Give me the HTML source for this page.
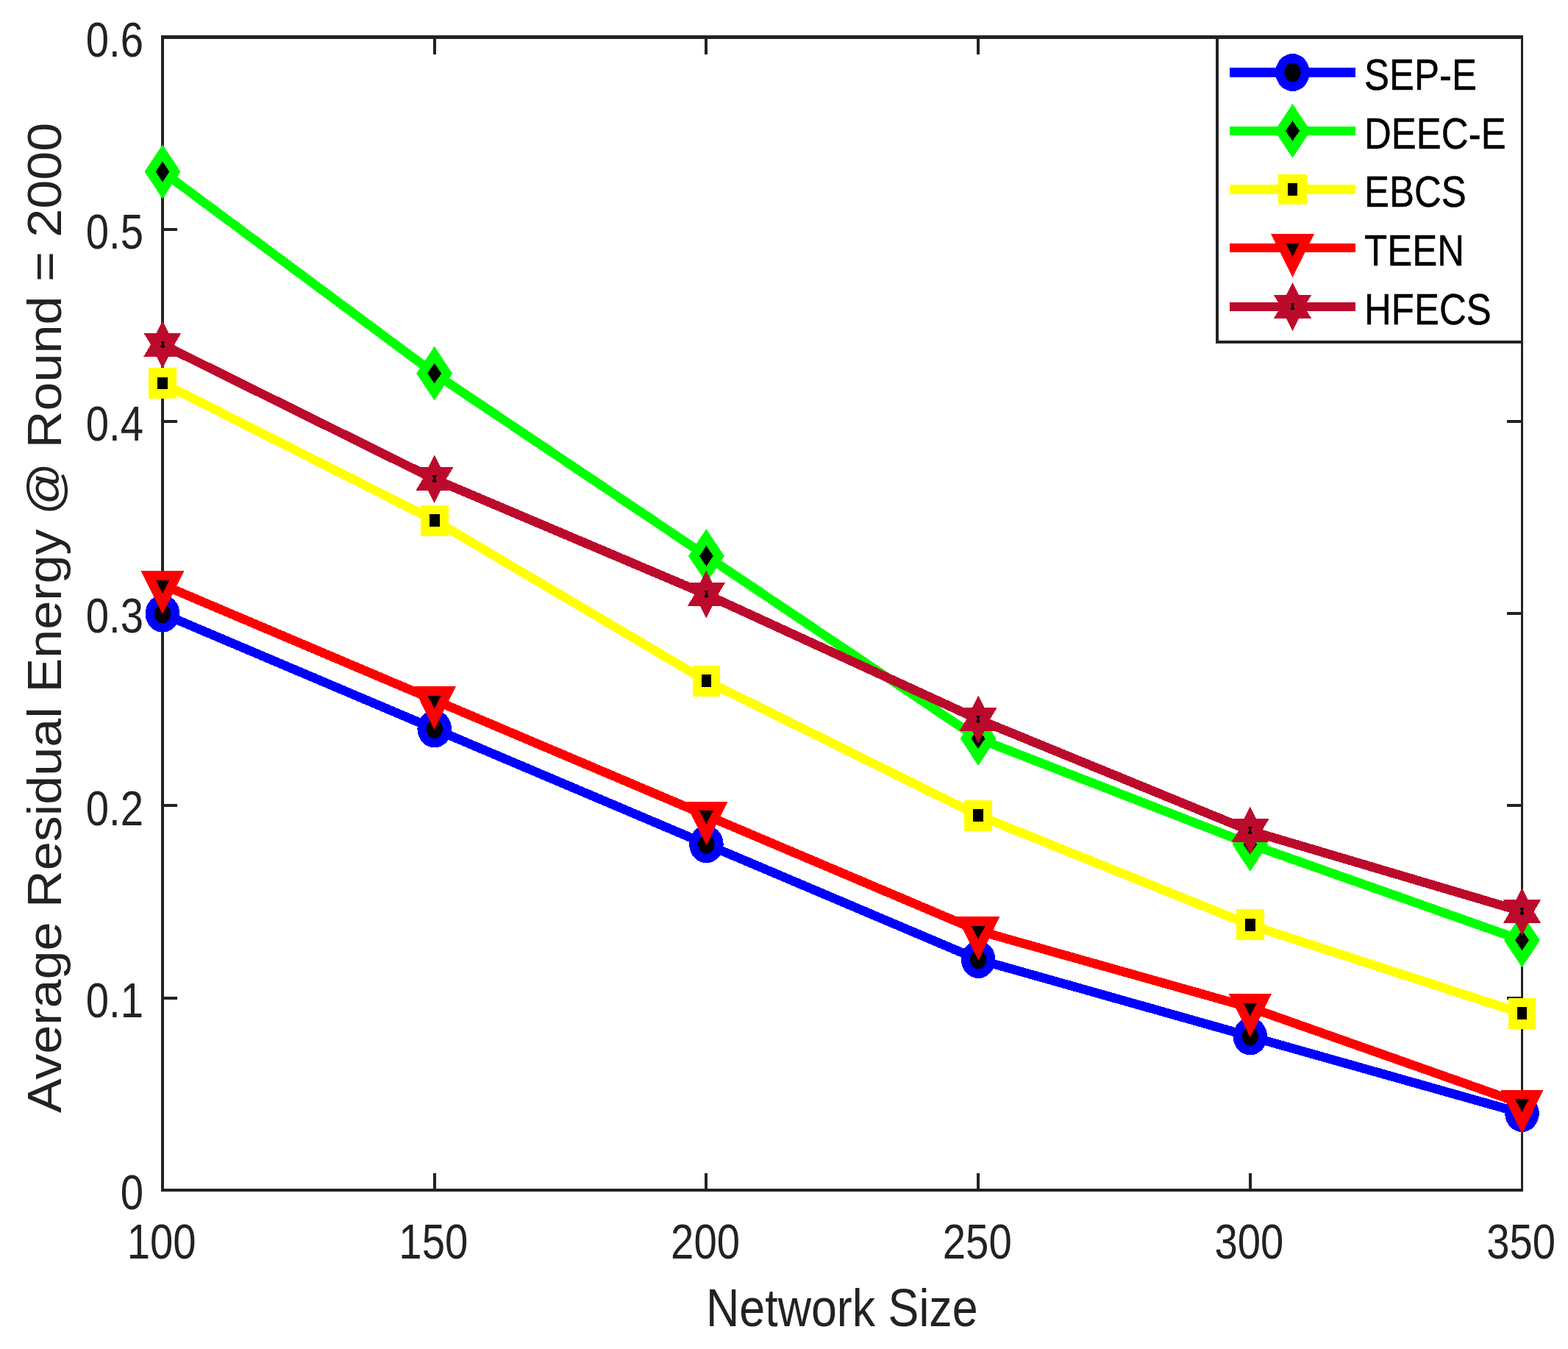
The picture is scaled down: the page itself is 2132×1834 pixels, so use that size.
<!DOCTYPE html>
<html lang="en">
<head>
<meta charset="utf-8">
<title>Average Residual Energy vs Network Size</title>
<style>
html,body{margin:0;padding:0;background:#fff;}
body{width:2132px;height:1834px;overflow:hidden;}
svg{display:block;}
text{font-family:"Liberation Sans",sans-serif;}
</style>
</head>
<body>
<svg width="2132" height="1834" viewBox="0 0 2132 1834">
<rect width="2132" height="1834" fill="#fff"/>
<g id="axes" fill="#222222" shape-rendering="crispEdges">
<rect x="219" y="48" width="1852" height="5"/>
<rect x="219" y="1616" width="1852" height="4"/>
<rect x="219" y="48" width="4" height="1572"/>
<rect x="2068" y="48" width="3" height="1572"/>
<rect x="589" y="1595" width="4" height="23"/><rect x="589" y="50" width="4" height="24"/>
<rect x="958" y="1595" width="4" height="23"/><rect x="958" y="50" width="4" height="24"/>
<rect x="1328" y="1595" width="4" height="23"/><rect x="1328" y="50" width="4" height="24"/>
<rect x="1698" y="1595" width="4" height="23"/><rect x="1698" y="50" width="4" height="24"/>
<rect x="221" y="1355" width="20" height="4"/><rect x="2049" y="1355" width="20" height="4"/>
<rect x="221" y="1093" width="20" height="4"/><rect x="2049" y="1093" width="20" height="4"/>
<rect x="221" y="832" width="20" height="4"/><rect x="2049" y="832" width="20" height="4"/>
<rect x="221" y="571" width="20" height="4"/><rect x="2049" y="571" width="20" height="4"/>
<rect x="221" y="310" width="20" height="4"/><rect x="2049" y="310" width="20" height="4"/>
</g>
<g id="ticklabels">
<text transform="translate(266.6 1710.9) scale(1 1.185)" font-size="56.3" text-anchor="end" fill="#222222">100</text>
<text transform="translate(636.3 1710.9) scale(1 1.185)" font-size="56.3" text-anchor="end" fill="#222222">150</text>
<text transform="translate(1006 1710.9) scale(1 1.185)" font-size="56.3" text-anchor="end" fill="#222222">200</text>
<text transform="translate(1375.7 1710.9) scale(1 1.185)" font-size="56.3" text-anchor="end" fill="#222222">250</text>
<text transform="translate(1745.4 1710.9) scale(1 1.185)" font-size="56.3" text-anchor="end" fill="#222222">300</text>
<text transform="translate(2115.1 1710.9) scale(1 1.185)" font-size="56.3" text-anchor="end" fill="#222222">350</text>
<text transform="translate(195 1644) scale(1 1.185)" font-size="56.3" text-anchor="end" fill="#222222">0</text>
<text transform="translate(195 1382.75) scale(1 1.185)" font-size="56.3" text-anchor="end" fill="#222222">0.1</text>
<text transform="translate(195 1121.5) scale(1 1.185)" font-size="56.3" text-anchor="end" fill="#222222">0.2</text>
<text transform="translate(195 860.25) scale(1 1.185)" font-size="56.3" text-anchor="end" fill="#222222">0.3</text>
<text transform="translate(195 599) scale(1 1.185)" font-size="56.3" text-anchor="end" fill="#222222">0.4</text>
<text transform="translate(195 337.75) scale(1 1.185)" font-size="56.3" text-anchor="end" fill="#222222">0.5</text>
<text transform="translate(195 76.5) scale(1 1.185)" font-size="56.3" text-anchor="end" fill="#222222">0.6</text>
</g>
<text transform="translate(1144.8 1802.8) scale(1 1.139)" font-size="62.75" text-anchor="middle" fill="#222222">Network Size</text>
<text transform="translate(82.7 840) rotate(-90) scale(1.079 1)" font-size="65" text-anchor="middle" fill="#222222">Average Residual Energy @ Round = 2000</text>
<g id="data" shape-rendering="crispEdges">
<polyline points="221,834.25 590.7,991 960.4,1147.75 1330.1,1304.5 1699.8,1409 2069.5,1513.5" fill="none" stroke="#0000ff" stroke-width="12.4" stroke-linejoin="miter"/>
<ellipse cx="221" cy="834.25" rx="23.3" ry="25.5" fill="#0000ff"/><ellipse cx="221" cy="834.25" rx="11.1" ry="13" fill="#000"/><ellipse cx="590.7" cy="991" rx="23.3" ry="25.5" fill="#0000ff"/><ellipse cx="590.7" cy="991" rx="11.1" ry="13" fill="#000"/><ellipse cx="960.4" cy="1147.75" rx="23.3" ry="25.5" fill="#0000ff"/><ellipse cx="960.4" cy="1147.75" rx="11.1" ry="13" fill="#000"/><ellipse cx="1330.1" cy="1304.5" rx="23.3" ry="25.5" fill="#0000ff"/><ellipse cx="1330.1" cy="1304.5" rx="11.1" ry="13" fill="#000"/><ellipse cx="1699.8" cy="1409" rx="23.3" ry="25.5" fill="#0000ff"/><ellipse cx="1699.8" cy="1409" rx="11.1" ry="13" fill="#000"/><ellipse cx="2069.5" cy="1513.5" rx="23.3" ry="25.5" fill="#0000ff"/><ellipse cx="2069.5" cy="1513.5" rx="11.1" ry="13" fill="#000"/>
<polyline points="221,233.37 590.7,507.69 960.4,755.87 1330.1,1004.06 1699.8,1147.75 2069.5,1278.38" fill="none" stroke="#00ff00" stroke-width="12.4" stroke-linejoin="miter"/>
<polygon points="221,196.37 245.4,233.37 221,270.37 196.6,233.37" fill="#00ff00"/><polygon points="221,219.47 230.4,233.37 221,247.27 211.6,233.37" fill="#000"/><polygon points="590.7,470.69 615.1,507.69 590.7,544.69 566.3,507.69" fill="#00ff00"/><polygon points="590.7,493.79 600.1,507.69 590.7,521.59 581.3,507.69" fill="#000"/><polygon points="960.4,718.87 984.8,755.87 960.4,792.87 936,755.87" fill="#00ff00"/><polygon points="960.4,741.97 969.8,755.87 960.4,769.77 951,755.87" fill="#000"/><polygon points="1330.1,967.06 1354.5,1004.06 1330.1,1041.06 1305.7,1004.06" fill="#00ff00"/><polygon points="1330.1,990.16 1339.5,1004.06 1330.1,1017.96 1320.7,1004.06" fill="#000"/><polygon points="1699.8,1110.75 1724.2,1147.75 1699.8,1184.75 1675.4,1147.75" fill="#00ff00"/><polygon points="1699.8,1133.85 1709.2,1147.75 1699.8,1161.65 1690.4,1147.75" fill="#000"/><polygon points="2069.5,1241.38 2093.9,1278.38 2069.5,1315.38 2045.1,1278.38" fill="#00ff00"/><polygon points="2069.5,1264.47 2078.9,1278.38 2069.5,1292.28 2060.1,1278.38" fill="#000"/>
<polyline points="221,520.75 590.7,707.54 960.4,925.69 1330.1,1108.56 1699.8,1257.47 2069.5,1377.65" fill="none" stroke="#ffff00" stroke-width="12.4" stroke-linejoin="miter"/>
<polygon points="202.1,499.75 239.9,499.75 239.9,541.75 202.1,541.75" fill="#ffff00"/><polygon points="214.2,512.55 227.8,512.55 227.8,528.95 214.2,528.95" fill="#000"/><polygon points="571.8,686.54 609.6,686.54 609.6,728.54 571.8,728.54" fill="#ffff00"/><polygon points="583.9,699.34 597.5,699.34 597.5,715.74 583.9,715.74" fill="#000"/><polygon points="941.5,904.69 979.3,904.69 979.3,946.69 941.5,946.69" fill="#ffff00"/><polygon points="953.6,917.49 967.2,917.49 967.2,933.89 953.6,933.89" fill="#000"/><polygon points="1311.2,1087.56 1349,1087.56 1349,1129.56 1311.2,1129.56" fill="#ffff00"/><polygon points="1323.3,1100.36 1336.9,1100.36 1336.9,1116.76 1323.3,1116.76" fill="#000"/><polygon points="1680.9,1236.47 1718.7,1236.47 1718.7,1278.47 1680.9,1278.47" fill="#ffff00"/><polygon points="1693,1249.27 1706.6,1249.27 1706.6,1265.67 1693,1265.67" fill="#000"/><polygon points="2050.6,1356.65 2088.4,1356.65 2088.4,1398.65 2050.6,1398.65" fill="#ffff00"/><polygon points="2062.7,1369.45 2076.3,1369.45 2076.3,1385.85 2062.7,1385.85" fill="#000"/>
<polyline points="221,795.06 590.7,951.81 960.4,1108.56 1330.1,1265.31 1699.8,1369.81 2069.5,1500.44" fill="none" stroke="#ff0000" stroke-width="12.4" stroke-linejoin="miter"/>
<polygon points="191.6,776.16 250.4,776.16 221,835.36" fill="#ff0000"/><polygon points="211.7,788.76 230.3,788.76 221,806.76" fill="#000"/><polygon points="561.3,932.91 620.1,932.91 590.7,992.11" fill="#ff0000"/><polygon points="581.4,945.51 600,945.51 590.7,963.51" fill="#000"/><polygon points="931,1089.66 989.8,1089.66 960.4,1148.86" fill="#ff0000"/><polygon points="951.1,1102.26 969.7,1102.26 960.4,1120.26" fill="#000"/><polygon points="1300.7,1246.41 1359.5,1246.41 1330.1,1305.61" fill="#ff0000"/><polygon points="1320.8,1259.01 1339.4,1259.01 1330.1,1277.01" fill="#000"/><polygon points="1670.4,1350.91 1729.2,1350.91 1699.8,1410.11" fill="#ff0000"/><polygon points="1690.5,1363.51 1709.1,1363.51 1699.8,1381.51" fill="#000"/><polygon points="2040.1,1481.54 2098.9,1481.54 2069.5,1540.74" fill="#ff0000"/><polygon points="2060.2,1494.14 2078.8,1494.14 2069.5,1512.14" fill="#000"/>
<polyline points="221,468.5 590.7,651.38 960.4,808.12 1330.1,977.94 1699.8,1129.46 2069.5,1239.19" fill="none" stroke="#bc0a2d" stroke-width="12.4" stroke-linejoin="miter"/>
<polygon points="221,435.9 229.3,452.5 246.7,452.5 237,468.5 246.7,484.5 229.3,484.5 221,501.1 212.7,484.5 195.3,484.5 205,468.5 195.3,452.5 212.7,452.5" fill="#bc0a2d"/><polygon points="218,463.5 224,463.5 222,467.5 224,471.5 221,473.5 218,471.5 220,467.5" fill="#000"/><polygon points="590.7,618.77 599,635.38 616.4,635.38 606.7,651.38 616.4,667.38 599,667.38 590.7,683.98 582.4,667.38 565,667.38 574.7,651.38 565,635.38 582.4,635.38" fill="#bc0a2d"/><polygon points="587.7,646.38 593.7,646.38 591.7,650.38 593.7,654.38 590.7,656.38 587.7,654.38 589.7,650.38" fill="#000"/><polygon points="960.4,775.52 968.7,792.12 986.1,792.12 976.4,808.12 986.1,824.12 968.7,824.12 960.4,840.72 952.1,824.12 934.7,824.12 944.4,808.12 934.7,792.12 952.1,792.12" fill="#bc0a2d"/><polygon points="957.4,803.12 963.4,803.12 961.4,807.12 963.4,811.12 960.4,813.12 957.4,811.12 959.4,807.12" fill="#000"/><polygon points="1330.1,945.34 1338.4,961.94 1355.8,961.94 1346.1,977.94 1355.8,993.94 1338.4,993.94 1330.1,1010.54 1321.8,993.94 1304.4,993.94 1314.1,977.94 1304.4,961.94 1321.8,961.94" fill="#bc0a2d"/><polygon points="1327.1,972.94 1333.1,972.94 1331.1,976.94 1333.1,980.94 1330.1,982.94 1327.1,980.94 1329.1,976.94" fill="#000"/><polygon points="1699.8,1096.86 1708.1,1113.46 1725.5,1113.46 1715.8,1129.46 1725.5,1145.46 1708.1,1145.46 1699.8,1162.06 1691.5,1145.46 1674.1,1145.46 1683.8,1129.46 1674.1,1113.46 1691.5,1113.46" fill="#bc0a2d"/><polygon points="1696.8,1124.46 1702.8,1124.46 1700.8,1128.46 1702.8,1132.46 1699.8,1134.46 1696.8,1132.46 1698.8,1128.46" fill="#000"/><polygon points="2069.5,1206.59 2077.8,1223.19 2095.2,1223.19 2085.5,1239.19 2095.2,1255.19 2077.8,1255.19 2069.5,1271.79 2061.2,1255.19 2043.8,1255.19 2053.5,1239.19 2043.8,1223.19 2061.2,1223.19" fill="#bc0a2d"/><polygon points="2066.5,1234.19 2072.5,1234.19 2070.5,1238.19 2072.5,1242.19 2069.5,1244.19 2066.5,1242.19 2068.5,1238.19" fill="#000"/>
</g>
<g id="legend">
<g shape-rendering="crispEdges"><rect x="1655" y="50" width="414" height="415" fill="#fff" stroke="none"/><rect x="1653" y="48" width="418" height="5" fill="#222222"/><rect x="1653" y="463" width="418" height="4" fill="#222222"/><rect x="1653" y="48" width="4" height="419" fill="#222222"/><rect x="2068" y="48" width="3" height="419" fill="#222222"/></g>
<g shape-rendering="crispEdges"><rect x="1672" y="92.3" width="171" height="12.4" fill="#0000ff"/><ellipse cx="1757.5" cy="98.5" rx="23.3" ry="25.5" fill="#0000ff"/><ellipse cx="1757.5" cy="98.5" rx="11.1" ry="13" fill="#000"/></g><text transform="translate(1855 122) scale(1 1.152)" font-size="51" text-anchor="start" fill="#000" stroke="#000" stroke-width="0.4">SEP-E</text>
<g shape-rendering="crispEdges"><rect x="1672" y="171.8" width="171" height="12.4" fill="#00ff00"/><polygon points="1757.5,141 1781.9,178 1757.5,215 1733.1,178" fill="#00ff00"/><polygon points="1757.5,164.1 1766.9,178 1757.5,191.9 1748.1,178" fill="#000"/></g><text transform="translate(1855 201.5) scale(1 1.152)" font-size="51" text-anchor="start" fill="#000" stroke="#000" stroke-width="0.4">DEEC-E</text>
<g shape-rendering="crispEdges"><rect x="1672" y="251.3" width="171" height="12.4" fill="#ffff00"/><polygon points="1738.4,237 1776.6,237 1776.6,278 1738.4,278" fill="#ffff00"/><polygon points="1750.7,249.3 1764.3,249.3 1764.3,265.7 1750.7,265.7" fill="#000"/></g><text transform="translate(1855 281) scale(1 1.152)" font-size="51" text-anchor="start" fill="#000" stroke="#000" stroke-width="0.4">EBCS</text>
<g shape-rendering="crispEdges"><rect x="1672" y="330.8" width="171" height="12.4" fill="#ff0000"/><polygon points="1728.1,318.1 1786.9,318.1 1757.5,377.3" fill="#ff0000"/><polygon points="1748.2,330.7 1766.8,330.7 1757.5,348.7" fill="#000"/></g><text transform="translate(1855 360.5) scale(1 1.152)" font-size="51" text-anchor="start" fill="#000" stroke="#000" stroke-width="0.4">TEEN</text>
<g shape-rendering="crispEdges"><rect x="1672" y="410.8" width="171" height="12.4" fill="#bc0a2d"/><polygon points="1757.5,384.4 1765.8,401 1783.2,401 1773.5,417 1783.2,433 1765.8,433 1757.5,449.6 1749.2,433 1731.8,433 1741.5,417 1731.8,401 1749.2,401" fill="#bc0a2d"/><polygon points="1754.5,412 1760.5,412 1758.5,416 1760.5,420 1757.5,422 1754.5,420 1756.5,416" fill="#000"/></g><text transform="translate(1855 440.5) scale(1 1.152)" font-size="51" text-anchor="start" fill="#000" stroke="#000" stroke-width="0.4">HFECS</text>
</g>
</svg>
</body>
</html>
